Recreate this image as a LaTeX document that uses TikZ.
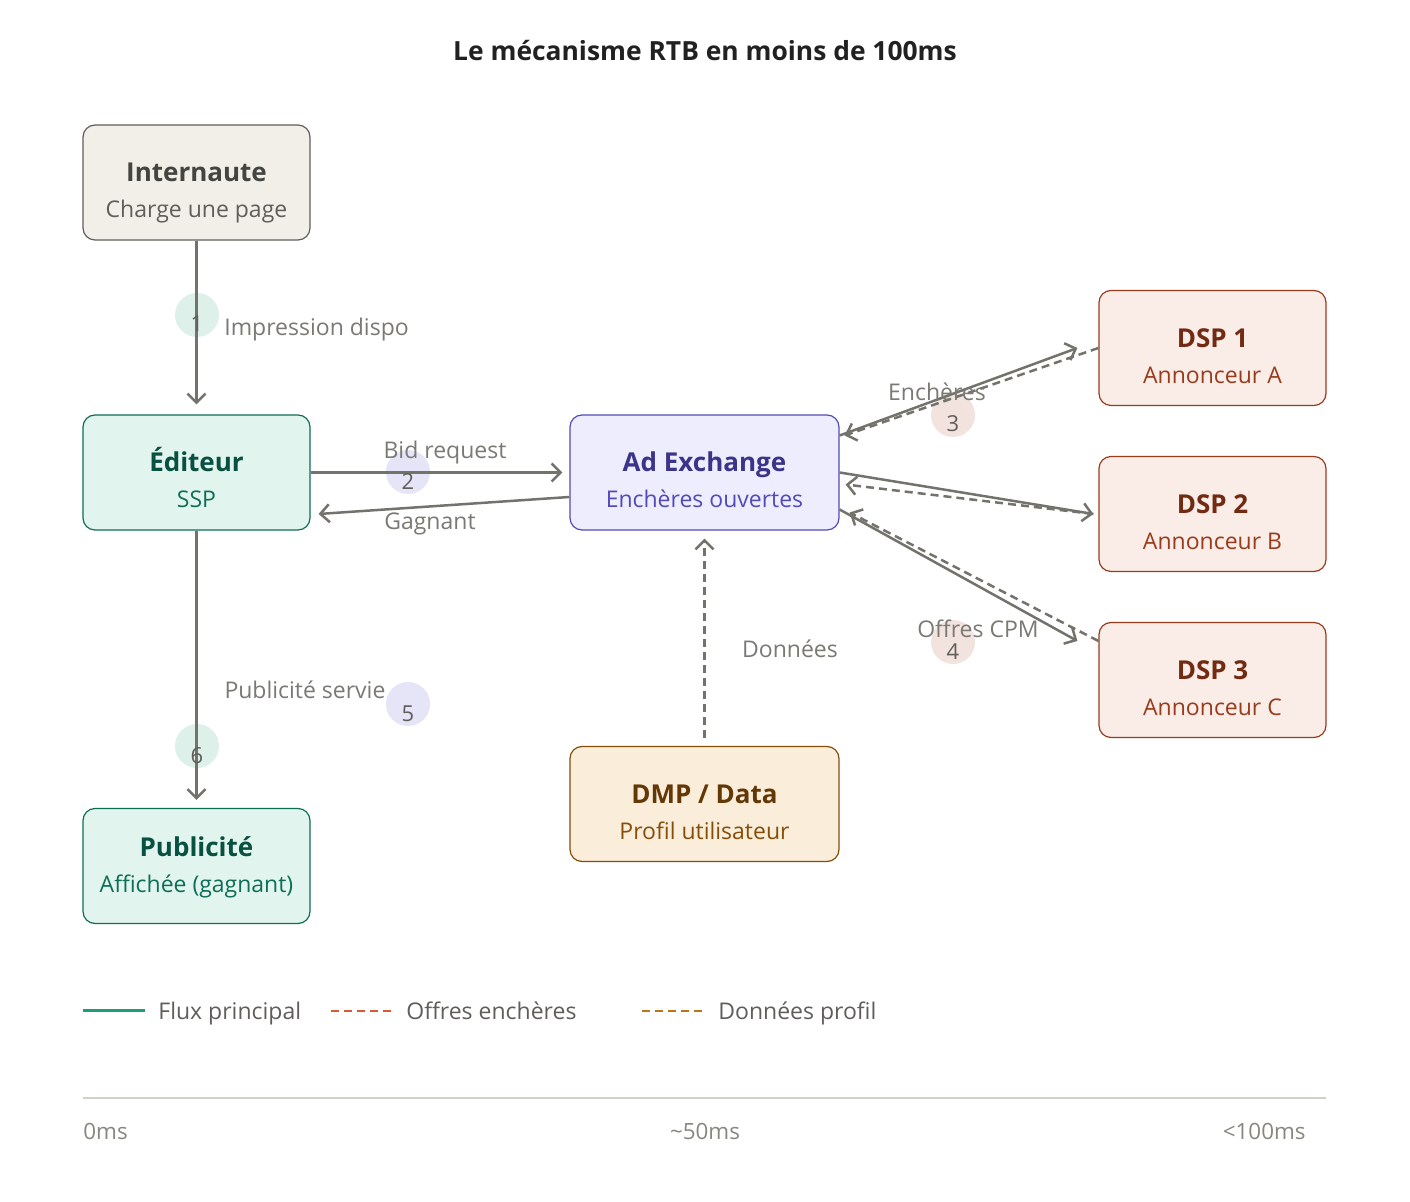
\documentclass[tikz,border=0pt]{standalone}
\usepackage{fontspec}
\setmainfont{Open Sans}
\usetikzlibrary{arrows.meta,calc}
\definecolor{edgec}{HTML}{73726C}
\definecolor{lblc}{HTML}{7A7974}
\definecolor{numc}{HTML}{5F5E5A}
\definecolor{grayfill}{HTML}{F1EFE8}\definecolor{graydraw}{HTML}{5F5E5A}\definecolor{graytext}{HTML}{444441}\definecolor{graysub}{HTML}{5F5E5A}
\definecolor{grnfill}{HTML}{E1F5EE}\definecolor{grndraw}{HTML}{0F6E56}\definecolor{grntext}{HTML}{085041}
\definecolor{purfill}{HTML}{EEEDFE}\definecolor{purdraw}{HTML}{534AB7}\definecolor{purtext}{HTML}{3C3489}
\definecolor{corfill}{HTML}{FAECE7}\definecolor{cordraw}{HTML}{993C1D}\definecolor{cortext}{HTML}{712B13}
\definecolor{ambfill}{HTML}{FAEEDA}\definecolor{ambdraw}{HTML}{854F0B}\definecolor{ambtext}{HTML}{633806}
\definecolor{c1}{HTML}{DDF1EA}\definecolor{c2}{HTML}{E6E4F7}\definecolor{c3}{HTML}{F2E3DE}
\definecolor{leggrn}{HTML}{1D9E75}\definecolor{legred}{HTML}{D85A30}\definecolor{legamb}{HTML}{BA7517}
\definecolor{tl}{HTML}{D3D1C7}\definecolor{tltext}{HTML}{888780}
\begin{document}
\begin{tikzpicture}[x=0.5pt,y=-0.5pt,
  box/.style={draw, rounded corners=6pt, line width=0.6pt, minimum width=113.5pt, minimum height=57.5pt, inner sep=0pt},
  widebox/.style={box, minimum width=134.5pt},
  ttl/.style={font=\fontsize{13}{16}\selectfont\bfseries, inner sep=0pt, anchor=base},
  sub/.style={font=\fontsize{11.5}{14}\selectfont, inner sep=0pt, anchor=base},
  lbl/.style={font=\fontsize{11.5}{13}\selectfont, text=lblc, inner sep=0pt, anchor=base},
  num/.style={font=\fontsize{11}{13}\selectfont, text=numc, inner sep=0pt, anchor=base},
  badge/.style={circle, minimum size=22pt, inner sep=0pt},
  arr/.style={draw=edgec, line width=1.25pt, -{Straight Barb[length=4.5pt,width=9pt,line width=1.25pt]}},
  darr/.style={arr, dash pattern=on 4pt off 2.5pt},
  leg/.style={font=\fontsize{11.5}{14}\selectfont, text=numc, inner sep=0pt, anchor=base west},
  tlt/.style={font=\fontsize{11.2}{13}\selectfont, text=tltext, inner sep=0pt, anchor=base}]
\useasboundingbox[fill=white] (0,0) rectangle (1410,1202);
\node[font=\fontsize{13.2}{16}\selectfont\bfseries, text=black!87, anchor=base, inner sep=0pt] (title) at (705,61) {Le mécanisme RTB en moins de 100ms};
% boxes
\node[box, fill=grayfill, draw=graydraw] (int) at (196.5,182.5) {};
\node[box, fill=grnfill, draw=grndraw] (edi) at (196.5,472.5) {};
\node[box, fill=grnfill, draw=grndraw] (pub) at (196.5,866) {};
\node[widebox, fill=purfill, draw=purdraw] (adx) at (704.5,472.5) {};
\node[box, fill=corfill, draw=cordraw] (dsp1) at (1212.5,348) {};
\node[box, fill=corfill, draw=cordraw] (dsp2) at (1212.5,514) {};
\node[box, fill=corfill, draw=cordraw] (dsp3) at (1212.5,680) {};
\node[widebox, fill=ambfill, draw=ambdraw] (dmp) at (704.5,804) {};
% box texts
\node[ttl, text=graytext] (intT) at (196.5,182) {Internaute};
\node[sub, text=graysub] (intS) at (196.5,218) {Charge une page};
\node[ttl, text=grntext] (ediT) at (196.5,472) {Éditeur};
\node[sub, text=grndraw] (ediS) at (196.5,508) {SSP};
\node[ttl, text=grntext] (pubT) at (196.5,857) {Publicité};
\node[sub, text=grndraw] (pubS) at (196.5,893) {Affichée (gagnant)};
\node[ttl, text=purtext] (adxT) at (704.5,472) {Ad Exchange};
\node[sub, text=purdraw] (adxS) at (704.5,508) {Enchères ouvertes};
\node[ttl, text=cortext] (d1T) at (1212.5,348) {DSP 1};
\node[sub, text=cordraw] (d1S) at (1212.5,384) {Annonceur A};
\node[ttl, text=cortext] (d2T) at (1212.5,514) {DSP 2};
\node[sub, text=cordraw] (d2S) at (1212.5,550) {Annonceur B};
\node[ttl, text=cortext] (d3T) at (1212.5,680) {DSP 3};
\node[sub, text=cordraw] (d3S) at (1212.5,716) {Annonceur C};
\node[ttl, text=ambtext] (dmpT) at (704.5,804) {DMP / Data};
\node[sub, text=ambdraw] (dmpS) at (704.5,840) {Profil utilisateur};
% badges
\node[badge, fill=c1] (b1) at (197,315) {};
\node[badge, fill=c2] (b2) at (408,472) {};
\node[badge, fill=c3] (b3) at (953,415) {};
\node[badge, fill=c3] (b4) at (953,642) {};
\node[badge, fill=c2] (b5) at (408,704) {};
\node[badge, fill=c1] (b6) at (197,746) {};
% connector end points
\coordinate (a1s) at ($(adx.east)+(0,-37)$);
\coordinate (a1d) at ($(adx.east)+(5,-37)$);
\coordinate (a2d) at ($(adx.east)+(6,12)$);
\coordinate (a3s) at ($(adx.east)+(0,37)$);
\coordinate (a3d) at ($(adx.east)+(10,40)$);
\coordinate (d1e) at ($(dsp1.west)+(-21,0)$);
\coordinate (d2e) at ($(dsp2.west)+(-5,0)$);
\coordinate (d3s) at ($(dsp3.west)+(0,-39)$);
\coordinate (d3e) at ($(dsp3.west)+(-21,-39)$);
\coordinate (gw) at ($(adx.west)+(0,24.5)$);
\coordinate (ge) at ($(edi.east)+(8,41.5)$);
\coordinate (ediN) at ($(edi.north)+(0,-10)$);
\coordinate (adxW) at ($(adx.west)+(-7,0)$);
\coordinate (dmpN) at ($(dmp.north)+(0,-8)$);
\coordinate (adxS) at ($(adx.south)+(0,8)$);
\coordinate (pubN) at ($(pub.north)+(0,-8)$);
% connectors
\draw[arr] (int.south) -- (ediN);
\draw[arr] (edi.east) -- (adxW);
\draw[arr] (gw) -- (ge);
\draw[arr] (a1s) -- (d1e);
\draw[darr] (dsp1.west) -- (a1d);
\draw[arr] (adx.east) -- (d2e);
\draw[darr] (d2e) -- (a2d);
\draw[arr] (a3s) -- (d3e);
\draw[darr] (d3s) -- (a3d);
\draw[darr] (dmpN) -- (adxS);
\draw[arr] (edi.south) -- (pubN);
% labels
\node[lbl, anchor=base west] (l1) at (224,336) {Impression dispo};
\node[num] (n1) at (197,332) {1};
\node[lbl] (l2) at (445,459) {Bid request};
\node[num] (n2) at (408,490) {2};
\node[lbl] (lg) at (430,530) {Gagnant};
\node[lbl] (l3) at (937,401) {Enchères};
\node[num] (n3) at (953,432) {3};
\node[lbl] (l4) at (978,638) {Offres CPM};
\node[num] (n4) at (953,660) {4};
\node[lbl] (ld) at (790,658) {Données};
\node[lbl] (l5) at (305,699) {Publicité servie};
\node[num] (n5) at (408,722) {5};
\node[num] (n6) at (197,764) {6};
% legend
\coordinate (lg1a) at (83,1011); \coordinate (lg1b) at (145,1011);
\coordinate (lg2a) at (331,1011); \coordinate (lg2b) at (395,1011);
\coordinate (lg3a) at (642,1011); \coordinate (lg3b) at (705,1011);
\draw[leggrn, line width=1.5pt] (lg1a) -- (lg1b);
\draw[legred, line width=1.4pt, dash pattern=on 4pt off 2.5pt] (lg2a) -- (lg2b);
\draw[legamb, line width=1.4pt, dash pattern=on 4pt off 2.5pt] (lg3a) -- (lg3b);
\node[leg] (leg1) at (158,1020) {Flux principal};
\node[leg] (leg2) at (406,1020) {Offres enchères};
\node[leg] (leg3) at (718,1020) {Données profil};
% timeline
\coordinate (tla) at (83,1098); \coordinate (tlb) at (1326,1098);
\draw[tl, line width=0.6pt] (tla) -- (tlb);
\node[tlt, anchor=base west] (t0) at (83,1140) {0ms};
\node[tlt] (t50) at (705,1140) {\textasciitilde 50ms};
\node[tlt, anchor=base east] (t100) at (1306,1140) {<100ms};
\end{tikzpicture}
\end{document}
